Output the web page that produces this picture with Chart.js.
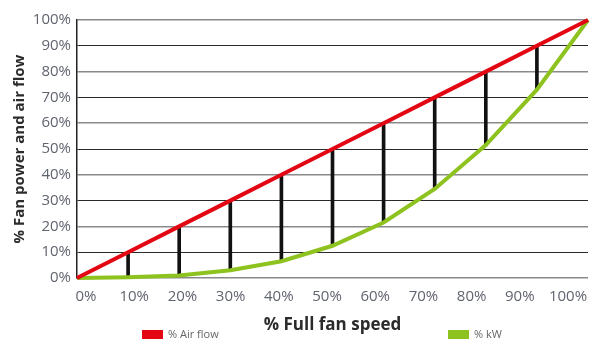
<!DOCTYPE html>
<html>
<head>
<meta charset="utf-8">
<script src="https://cdn.jsdelivr.net/npm/chart.js@4/dist/chart.umd.min.js"></script>
<style>
  html, body { margin: 0; padding: 0; background: #fff; }
  #wrap { position: relative; width: 590px; height: 339px; }
  #legend { position: absolute; left: 0; top: 0; width: 590px; height: 339px; pointer-events: none; }
  .item { position: absolute; top: 327px; font: 11px 'Open Sans', sans-serif; color: #666; white-space: nowrap; line-height: 13px; }
  .item span.box { display: inline-block; width: 21px; height: 9px; vertical-align: -1px; margin-right: 5px; }
</style>
</head>
<body>
<div id="wrap">
  <canvas id="chart" width="590" height="339"></canvas>
  <div id="legend"></div>
</div>
<script>
// fan speed (% of full), shared by both curves
const speed = [0, 10, 20, 30, 40, 50, 60, 70, 80, 90, 100]
// % air flow follows speed
const airFlow = [0, 10, 20, 30, 40, 50, 60, 70, 80, 90, 100]
// % power drawn
const power = [0, 0.3, 1, 3, 6.5, 12.5, 21.5, 34.5, 51.5, 73, 100]
// speeds where the gap is marked with a black bar
const gapSpeeds = [10, 20, 30, 40, 50, 60, 70, 80, 90]
const xLabels = [0, 10, 20, 30, 40, 50, 60, 70, 80, 90, 100]
const yTicks = [0, 10, 20, 30, 40, 50, 60, 70, 80, 90, 100]

const RED = '#e30613'
const GREEN = '#8dc21f'

const pts = vals => speed.map((s, i) => ({ x: s, y: vals[i] }))
const gaps = gapSpeeds.map(s => {
  const i = speed.indexOf(s)
  return { x: s, y: [power[i], airFlow[i]] }
})

const chart = new Chart(document.getElementById('chart'), {
  type: 'line',
  data: {
    datasets: [
      { label: '% Air flow', data: pts(airFlow), borderColor: RED, backgroundColor: RED,
        borderWidth: 4, pointRadius: 0, tension: 0, order: 1, clip: false },
      { label: '% kW', data: pts(power), borderColor: GREEN, backgroundColor: GREEN,
        borderWidth: 4, pointRadius: 0, tension: 0, order: 2, clip: false },
      { type: 'bar', label: 'gap', data: gaps, backgroundColor: '#111',
        barThickness: 3, borderWidth: 0, order: 3 }
    ]
  },
  options: {
    responsive: false,
    animation: false,
    layout: { padding: { top: 20, right: 2, left: 0, bottom: 0 } },
    plugins: { legend: { display: false }, tooltip: { enabled: false } },
    scales: {
      x: { type: 'linear', min: 0, max: 100, offset: false, display: false },
      x2: {
        type: 'linear', position: 'bottom', min: -1.87, max: 104.15, offset: false,
        grid: { display: false, drawTicks: false },
        border: { display: false },
        afterBuildTicks: axis => { axis.ticks = xLabels.map(v => ({ value: v })) },
        afterFit: axis => {
          axis.height = 61
          // labels may hang over the edges, don't shrink the plot for them
          axis.paddingLeft = 0
          axis.paddingRight = 0
        },
        ticks: { padding: 10, color: '#60646e', font: { family: 'Open Sans', size: 15 },
          maxRotation: 0, autoSkip: false, callback: v => v + '%' },
        title: { display: true, text: '% Full fan speed', color: '#2b2b2b',
          font: { family: 'Open Sans', size: 17, weight: 'bold' }, padding: { top: 0, bottom: 4 } }
      },
      y: {
        min: 0, max: 100,
        afterBuildTicks: axis => { axis.ticks = yTicks.map(v => ({ value: v })) },
        afterFit: axis => { axis.width = 77 },
        grid: {
          drawTicks: false,
          color: c => (c.tick && c.tick.value % 20 === 0 ? '#8a8a8a' : '#2a2a2a'),
          lineWidth: c => (c.tick && c.tick.value % 20 === 0 ? 1.6 : 1)
        },
        border: { display: true, color: '#222', width: 1.5 },
        ticks: { padding: 6, color: '#60646e', font: { family: 'Open Sans', size: 15 },
          callback: v => v + '%' },
        title: { display: true, text: '% Fan power and air flow', color: '#2b2b2b',
          font: { family: 'Open Sans', size: 15, weight: 'bold' }, padding: { top: 11, bottom: 0 } }
      }
    }
  }
})

// html legend for the two curves
const legendLeft = [142, 448]
const legend = document.getElementById('legend')
chart.data.datasets.filter(d => d.type !== 'bar').forEach((d, i) => {
  const el = document.createElement('div')
  el.className = 'item'
  el.style.left = legendLeft[i] + 'px'
  el.innerHTML = '<span class="box" style="background:' + d.borderColor + '"></span>' + d.label
  legend.appendChild(el)
})
</script>
</body>
</html>
